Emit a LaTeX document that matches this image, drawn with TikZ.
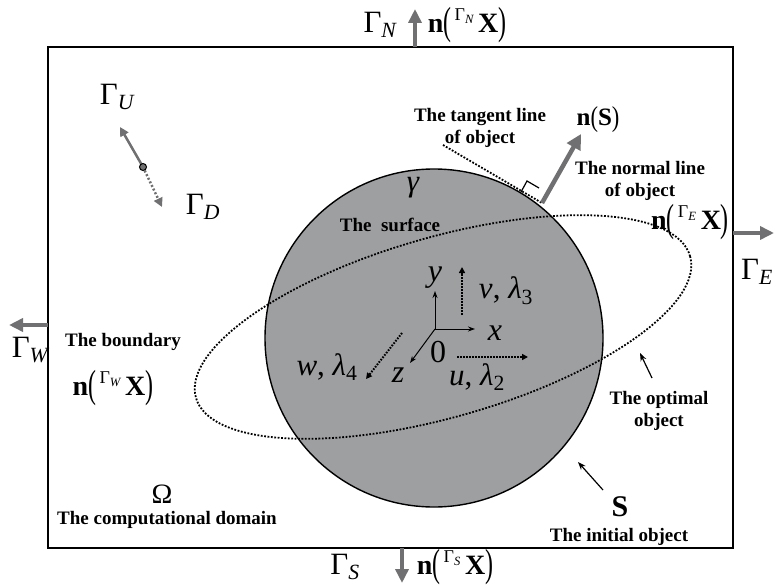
\documentclass[tikz,border=0pt]{standalone}
\usepackage{graphicx}
\usepackage{fontspec}
\setmainfont{Liberation Serif}
\usetikzlibrary{arrows.meta}
\definecolor{ballgray}{RGB}{158,159,161}
\definecolor{arrgray}{RGB}{112,112,114}
\newcommand{\Gsub}[1]{Γ\textsubscript{\itshape #1}}
\newcommand{\lpar}{\raisebox{-0.08em}{\scalebox{0.85}[1.4]{(}}}
\newcommand{\rpar}{\raisebox{-0.08em}{\scalebox{0.85}[1.4]{)}}}
\newcommand{\nXof}[1]{\textbf{n}\lpar\hspace{0.12em}\raisebox{0.42em}{\fontsize{18}{18}\selectfont\Gsub{#1}}\hspace{0.15em}\textbf{X}\rpar}
\begin{document}
\begin{tikzpicture}[x=1pt,y=-1pt,
  lbl/.style={font=\bfseries\fontsize{19}{22}\selectfont, align=center, inner sep=0pt},
  mth/.style={font=\fontsize{31}{33}\selectfont, inner sep=0pt},
  mthn/.style={font=\fontsize{28}{30}\selectfont, inner sep=0pt},
  bnd/.style={draw=arrgray, line width=4pt, -{Triangle[length=14pt,width=13pt]}},
  dotline/.style={line width=1.8pt, dash pattern=on 1.8pt off 1.6pt},
  axisarrow/.style={line width=1pt, -{Stealth[length=7pt,width=5pt]}},
  dotarrow/.style={line width=2pt, dash pattern=on 1.6pt off 1.4pt, -{Triangle[length=6pt,width=6pt]}},
  pointer/.style={line width=1.2pt, -{Stealth[length=8pt,width=6pt]}}
]
\useasboundingbox (0,0) rectangle (775,585);
% domain frame
\coordinate (dNW) at (48,47);
\coordinate (dSE) at (733,548);
\draw[line width=1.5pt] (dNW) rectangle (dSE);
% boundary normals
\coordinate (tN) at (415,47);  \coordinate (hN) at (415,9);
\coordinate (tE) at (733,233); \coordinate (hE) at (774,233);
\coordinate (tW) at (48,325);  \coordinate (hW) at (9,325);
\coordinate (tS) at (402,548); \coordinate (hS) at (402,583);
\draw[bnd] (tN) -- (hN);
\draw[bnd] (tE) -- (hE);
\draw[bnd] (tW) -- (hW);
\draw[bnd] (tS) -- (hS);
% object
\node[circle, draw, fill=ballgray, line width=1.4pt, minimum size=338pt, inner sep=0pt] (obj) at (434,338) {};
% optimal object
\draw[dotline, rotate around={16:(443,327)}] (443,327) ellipse [x radius=257, y radius=90];
% tangent and normal
\coordinate (tp) at (542,203);
\coordinate (tl) at (443,145);
\coordinate (nh) at (581,134);
\draw[dotline] (tl) -- (tp);
\draw[draw=arrgray, line width=4.5pt, -{Triangle[length=15pt,width=15pt]}] (tp) -- (nh);
\draw[line width=1.2pt] (521,192) -- (527,181) -- (539,188);
% up/down marker
\coordinate (mk) at (143,167);
\coordinate (mu) at (120,127);
\coordinate (md) at (162,207);
\draw[draw=arrgray, line width=2.5pt, -{Triangle[length=9pt,width=9pt]}] (mk) -- (mu);
\draw[draw=arrgray, line width=2.5pt, dash pattern=on 2pt off 2pt, -{Triangle[length=9pt,width=9pt]}] (mk) -- (md);
\node[circle, draw, fill=arrgray, line width=1pt, minimum size=7pt, inner sep=0pt] (mkc) at (mk) {};
% axes
\coordinate (O) at (435,329);
\coordinate (ay) at (435,291);
\coordinate (ax) at (475,329);
\coordinate (az) at (410,363);
\draw[axisarrow] (O) -- (ay);
\draw[axisarrow] (O) -- (ax);
\draw[axisarrow] (O) -- (az);
\draw[dotarrow] (462,315) -- (462,267);
\draw[dotarrow] (457,357) -- (528,357);
\draw[dotarrow] (402,333) -- (366,379);
% pointers
\draw[pointer] (652,378) -- (640,353);
\draw[pointer] (603,490) -- (578,462);
% labels
\node[mth] (GN) at (380,25) {\Gsub{N}};
\node[mthn] (nN) at (467,25) {\nXof{N}};
\node[mth] (GE) at (757,272) {\Gsub{E}};
\node[mthn] (nE) at (690,222) {\nXof{E}};
\node[mth] (GW) at (30,350) {\Gsub{W}};
\node[mthn] (nW) at (113,388) {\nXof{W}};
\node[mth] (GS) at (345,567) {\Gsub{S}};
\node[mthn] (nS) at (455,567) {\nXof{S}};
\node[mth] (GU) at (117,97) {\Gsub{U}};
\node[mth] (GD) at (203,207) {\Gsub{D}};
\node[font=\fontsize{25}{27}\selectfont, inner sep=0pt] (nSS) at (598,120) {\textbf{n}\raisebox{-0.04em}{\scalebox{0.9}[1.15]{(}}\textbf{S}\raisebox{-0.04em}{\scalebox{0.9}[1.15]{)}}};
\node[lbl] (tang) at (480,128) {The tangent line\\of object};
\node[lbl] (norm) at (640,181) {The normal line\\of object};
\node[font=\itshape\fontsize{31}{33}\selectfont, inner sep=0pt] (gam) at (413,188) {γ};
\node[lbl] (surf) at (390,225) {The~ surface};
\node[lbl] (bdry) at (123,342) {The boundary};
\node[lbl] (opt) at (659,411) {The optimal\\object};
\node[font=\bfseries\fontsize{30}{32}\selectfont, inner sep=0pt] (Slab) at (620,507) {S};
\node[lbl] (init) at (619,537) {The initial object};
\node[font=\fontsize{28}{30}\selectfont, inner sep=0pt] (Om) at (162,494) {Ω};
\node[lbl] (comp) at (167,520) {The computational domain};
\node[mth, font=\itshape\fontsize{32}{34}\selectfont] (ly) at (435,278) {y};
\node[mth, font=\itshape\fontsize{32}{34}\selectfont] (lx) at (495,333) {x};
\node[mth, font=\itshape\fontsize{32}{34}\selectfont] (lz) at (398,375) {z};
\node[mth, font=\fontsize{32}{34}\selectfont] (l0) at (438,352) {0};
\node[mth] (lv) at (506,291) {\textit{v}, \textit{λ}\textsubscript{3}};
\node[mth] (lu) at (477,377) {\textit{u}, \textit{λ}\textsubscript{2}};
\node[mth] (lw) at (327,367) {\textit{w}, \textit{λ}\textsubscript{4}};
\end{tikzpicture}
\end{document}
